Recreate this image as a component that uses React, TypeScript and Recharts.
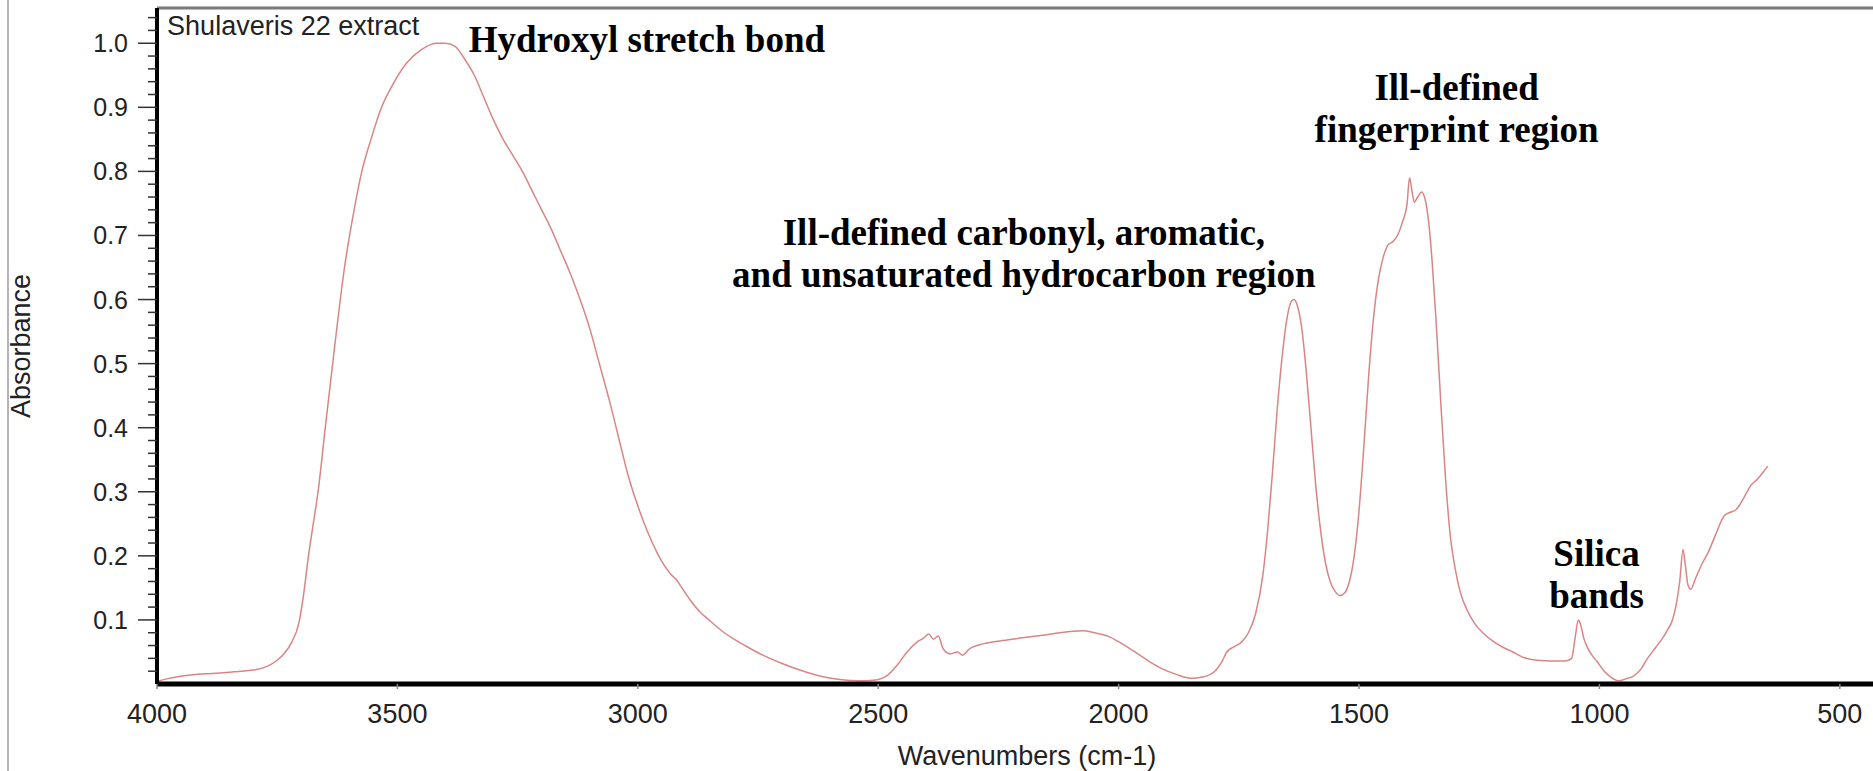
import { LineChart, Line, XAxis, YAxis, ReferenceLine, ReferenceDot } from 'recharts';

// FTIR spectrum (cm-1 -> absorbance)
const WAVENUMBERS = [
  4000, 3980, 3960, 3930, 3900, 3870, 3840, 3810, 3790, 3770, 3750, 3735, 3720, 3705, 3695, 3685, 3675, 3665,
  3650, 3630, 3610, 3590, 3574, 3555, 3533, 3510, 3480, 3450, 3420, 3400, 3380, 3360, 3340, 3320, 3300, 3280,
  3260, 3240, 3220, 3200, 3180, 3160, 3140, 3120, 3100, 3080, 3060, 3040, 3020, 3000, 2980, 2960, 2945, 2930,
  2920, 2910, 2890, 2870, 2855, 2840, 2820, 2800, 2770, 2740, 2700, 2660, 2620, 2580, 2540, 2510, 2480, 2460,
  2440, 2420, 2405, 2395, 2385, 2375, 2365, 2350, 2335, 2325, 2310, 2280, 2240, 2200, 2150, 2100, 2075, 2050,
  2020, 2000, 1970, 1940, 1910, 1880, 1850, 1825, 1800, 1785, 1775, 1760, 1745, 1730, 1715, 1700, 1690, 1680,
  1670, 1660, 1650, 1640, 1635, 1628, 1620, 1610, 1600, 1590, 1580, 1570, 1560, 1550, 1540, 1530, 1520, 1510,
  1500, 1490, 1480, 1470, 1460, 1450, 1440, 1430, 1420, 1410, 1400, 1395, 1390, 1385, 1378, 1370, 1362, 1355,
  1348, 1340, 1330, 1320, 1310, 1300, 1290, 1275, 1260, 1240, 1220, 1200, 1180, 1160, 1130, 1100, 1070, 1058,
  1050, 1044, 1040, 1032, 1020, 1005, 990, 975, 960, 945, 930, 915, 900, 885, 870, 858, 848, 840, 833, 826,
  822, 816, 810, 800, 785, 774, 760, 740, 728, 716, 700, 685, 671, 660, 650,
];
const ABSORBANCE = [
  0.004, 0.008, 0.011, 0.014, 0.016, 0.017, 0.019, 0.021, 0.023, 0.028, 0.037, 0.048, 0.065, 0.095, 0.14, 0.2, 0.25, 0.3,
  0.4, 0.53, 0.65, 0.74, 0.8, 0.85, 0.9, 0.935, 0.97, 0.99, 1.0, 1.0, 0.995, 0.975, 0.95, 0.915, 0.88, 0.85,
  0.825, 0.8, 0.77, 0.74, 0.71, 0.675, 0.64, 0.6, 0.555, 0.5, 0.445, 0.385, 0.325, 0.278, 0.238, 0.205, 0.185, 0.17,
  0.163, 0.152, 0.13, 0.112, 0.102, 0.092, 0.08, 0.07, 0.057, 0.045, 0.032, 0.021, 0.012, 0.007, 0.005, 0.006, 0.014, 0.03,
  0.05, 0.065, 0.072, 0.078, 0.07, 0.075, 0.055, 0.047, 0.05, 0.045, 0.055, 0.063, 0.068, 0.072, 0.077, 0.082, 0.083, 0.08,
  0.074, 0.066, 0.052, 0.037, 0.024, 0.015, 0.009, 0.011, 0.02, 0.035, 0.05, 0.058, 0.065, 0.08, 0.11, 0.17, 0.24, 0.33,
  0.43, 0.51, 0.57, 0.598, 0.6, 0.59, 0.56, 0.49, 0.4, 0.31, 0.24, 0.19, 0.16, 0.145, 0.138, 0.142, 0.16, 0.2,
  0.27, 0.37, 0.48, 0.57, 0.63, 0.665, 0.685, 0.69, 0.7, 0.72, 0.75, 0.79, 0.77, 0.752, 0.76, 0.768, 0.755, 0.72,
  0.66, 0.57, 0.44, 0.32, 0.23, 0.18, 0.145, 0.115, 0.095, 0.078, 0.066, 0.057, 0.05, 0.042, 0.037, 0.036, 0.036, 0.04,
  0.075, 0.1, 0.095, 0.07, 0.05, 0.035, 0.02, 0.01, 0.005, 0.008, 0.012, 0.022, 0.04, 0.055, 0.07, 0.085, 0.1, 0.125, 0.16, 0.21,
  0.19, 0.155, 0.148, 0.165, 0.19, 0.205, 0.23, 0.263, 0.268, 0.272, 0.29, 0.31, 0.32, 0.33, 0.34,
];

const X_TICKS = [4000, 3500, 3000, 2500, 2000, 1500, 1000, 500];
const Y_TICKS = [
  0.02, 0.04, 0.06, 0.08, 0.1, 0.12, 0.14, 0.16, 0.18, 0.2, 0.22, 0.24, 0.26, 0.28, 0.3, 0.32, 0.34, 0.36,
  0.38, 0.4, 0.42, 0.44, 0.46, 0.48, 0.5, 0.52, 0.54, 0.56, 0.58, 0.6, 0.62, 0.64, 0.66, 0.68, 0.7, 0.72,
  0.74, 0.76, 0.78, 0.8, 0.82, 0.84, 0.86, 0.88, 0.9, 0.92, 0.94, 0.96, 0.98, 1.0, 1.02, 1.04,
];
const X_MIN = 431;
const X_MAX = 4000;
const Y_MAX = 1.055;

const SAMPLE_NAME = 'Shulaveris 22 extract';
const NOTE_LINES = [
  ['Hydroxyl stretch bond'],
  ['Ill-defined carbonyl, aromatic,', 'and unsaturated hydrocarbon region'],
  ['Ill-defined', 'fingerprint region'],
  ['Silica', 'bands'],
];
const NOTE_WN = [2981, 2197, 1297, 1006];
const NOTE_ABS = [0.986, 0.685, 0.911, 0.184];

const data = WAVENUMBERS.map((wn, i) => ({ wn, abs: ABSORBANCE[i] }));

const SANS = 'Liberation Sans, Arial, Helvetica, sans-serif';
const SERIF = 'Liberation Serif, Times New Roman, serif';

function YTick({ x, y, payload }: any) {
  const v = payload.value;
  const major = Math.round(v * 100) % 10 === 0;
  return (
    <g>
      <line x1={x - (major ? 19 : 9)} x2={x} y1={y} y2={y} stroke="#333" strokeWidth={1.5} />
      {major && (
        <text x={x - 29} y={y} dy="0.36em" textAnchor="end" fontSize={25} fill="#222" fontFamily={SANS}>
          {v.toFixed(1)}
        </text>
      )}
    </g>
  );
}

function NoteText({ viewBox, lines }: any) {
  const cx = viewBox.x + viewBox.width / 2;
  const cy = viewBox.y + viewBox.height / 2;
  return (
    <text x={cx} y={cy} textAnchor="middle" fontSize={37} fontWeight="bold" fill="#000" fontFamily={SERIF}>
      {lines.map((l: string, i: number) => (
        <tspan key={i} x={cx} dy={i === 0 ? 0 : 42}>{l}</tspan>
      ))}
    </text>
  );
}

function SampleText({ viewBox }: any) {
  return (
    <text x={viewBox.x + viewBox.width / 2} y={viewBox.y + viewBox.height / 2} fontSize={27} fill="#222" fontFamily={SANS}>
      {SAMPLE_NAME}
    </text>
  );
}

export default function App() {
  return (
    <div style={{ position: 'absolute', left: 0, top: 0, width: 1873, height: 771, background: '#fff', overflow: 'hidden' }}>
      <div style={{ position: 'absolute', left: 7, top: 0, width: 2, height: 771, background: '#b5b5b5' }} />
      <LineChart width={1873} height={771} data={data} margin={{ top: 8, right: 0, left: 0, bottom: 0 }}>
        <XAxis
          dataKey="wn"
          type="number"
          domain={[X_MIN, X_MAX]}
          reversed
          allowDataOverflow
          ticks={X_TICKS}
          interval={0}
          height={87}
          axisLine={{ stroke: '#000', strokeWidth: 5 }}
          tickLine={{ stroke: '#888', strokeWidth: 1.5 }}
          tickSize={5}
          tickMargin={15}
          tick={{ fontSize: 27, fill: '#222', fontFamily: SANS }}
          label={{ value: 'Wavenumbers (cm-1)', position: 'insideBottom', offset: 6, dx: 12, fontSize: 27, fill: '#222', fontFamily: SANS }}
        />
        <YAxis
          type="number"
          domain={[0, Y_MAX]}
          allowDataOverflow
          ticks={Y_TICKS}
          interval={0}
          width={157}
          axisLine={{ stroke: '#000', strokeWidth: 4 }}
          tickLine={false}
          tickSize={0}
          tickMargin={0}
          tick={<YTick />}
          label={{ value: 'Absorbance', angle: -90, position: 'insideLeft', offset: 20, fontSize: 27, fill: '#222', fontFamily: SANS, style: { textAnchor: 'middle' } }}
        />
        <ReferenceLine y={Y_MAX} stroke="#7a7a7a" strokeWidth={3} />
        <Line type="monotone" dataKey="abs" stroke="#d98585" strokeWidth={1.5} dot={false} isAnimationActive={false} />
        <ReferenceDot x={3979} y={1.013} r={1} fill="none" stroke="none" label={(p: any) => <SampleText viewBox={p.viewBox} />} />
        {NOTE_LINES.map((lines, i) => (
          <ReferenceDot
            key={i}
            x={NOTE_WN[i]}
            y={NOTE_ABS[i]}
            r={1}
            fill="none"
            stroke="none"
            label={(p: any) => <NoteText viewBox={p.viewBox} lines={lines} />}
          />
        ))}
      </LineChart>
    </div>
  );
}
